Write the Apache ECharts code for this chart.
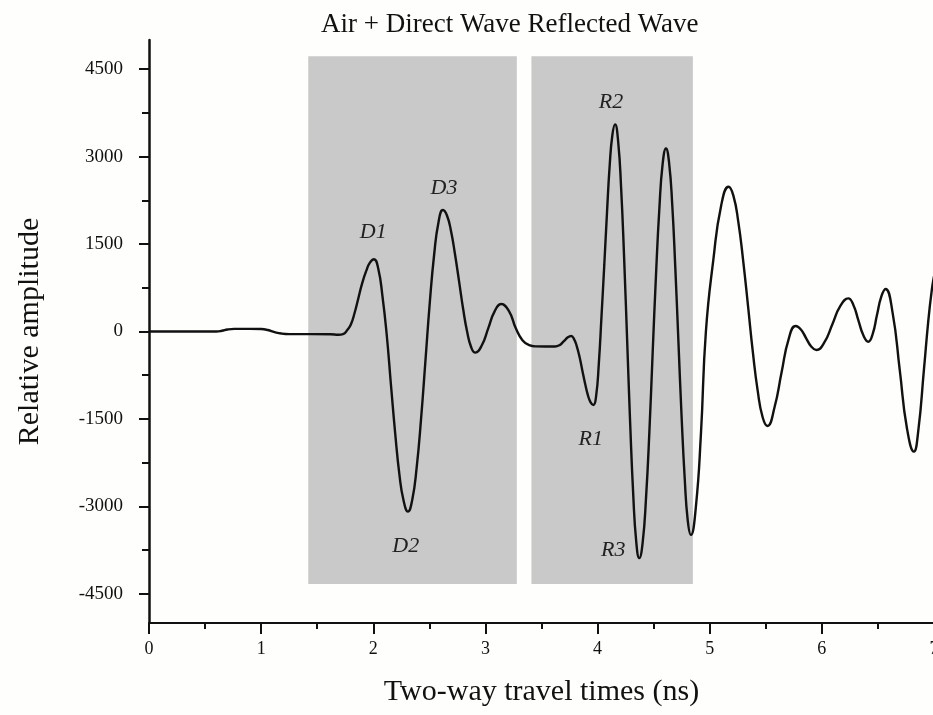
<!DOCTYPE html>
<html>
<head>
<meta charset="utf-8">
<title>Air + Direct Wave / Reflected Wave</title>
<script src="https://cdn.jsdelivr.net/npm/echarts@6/dist/echarts.min.js"></script>
<style>
  html, body { margin: 0; padding: 0; background: #fefefc; }
  #chart { width: 933px; height: 715px; }
</style>
</head>
<body>
<div id="chart"></div>
<script>
// Two-way travel time (ns) of each sample of the trace
const timeNs = [
  0, 0.3, 0.6, 0.65, 0.7, 0.76, 0.9, 1.0, 1.06, 1.12, 1.18, 1.25, 1.45, 1.62, 1.69, 1.73,
  1.77, 1.8, 1.835, 1.868, 1.9, 1.937, 1.97, 2.006, 2.044, 2.082, 2.12, 2.158, 2.196, 2.233,
  2.27, 2.309, 2.348, 2.387, 2.426, 2.465, 2.504, 2.543, 2.582, 2.621, 2.657, 2.693, 2.729,
  2.765, 2.801, 2.837, 2.873, 2.909, 2.967, 3.025, 3.083, 3.141, 3.21, 3.27, 3.33, 3.39,
  3.45, 3.62, 3.66, 3.7, 3.735, 3.764, 3.79, 3.814, 3.84, 3.864, 3.889, 3.913, 3.938, 3.963,
  3.987, 4.011, 4.035, 4.06, 4.084, 4.108, 4.132, 4.156, 4.183, 4.21, 4.237, 4.264, 4.291,
  4.318, 4.345, 4.372, 4.402, 4.432, 4.462, 4.491, 4.521, 4.551, 4.58, 4.61, 4.638, 4.666,
  4.693, 4.721, 4.749, 4.777, 4.804, 4.832, 4.876, 4.922, 4.966, 5.033, 5.101, 5.168, 5.211,
  5.255, 5.298, 5.342, 5.385, 5.428, 5.472, 5.515, 5.578, 5.641, 5.704, 5.767, 5.813, 5.859,
  5.905, 5.951, 6.022, 6.094, 6.165, 6.236, 6.28, 6.325, 6.37, 6.414, 6.453, 6.491, 6.53,
  6.568, 6.631, 6.695, 6.758, 6.821, 6.86, 6.91, 6.95, 6.981, 7.0
];
// Relative amplitude of each sample
const amplitude = [
  0, 0, 0, 12, 35, 45, 45, 42, 25, -10, -35, -45, -45, -48, -55, -45,
  30, 120, 330, 580, 820, 1040, 1180, 1238, 1080, 604, -60, -926, -1760, -2455,
  -2900, -3089, -2880, -2331, -1500, -503, 500, 1325, 1880, 2083, 1990, 1725, 1320,
  860, 390, -5, -270, -363, -241, 54, 349, 471, 350, 60, -150, -235,
  -255, -258, -235, -165, -100, -77, -130, -250, -440, -668, -895, -1087, -1215, -1260,
  -1110, -555, 260, 1146, 2040, 2847, 3370, 3552, 3270, 2462, 1250, -168, -1590,
  -2798, -3610, -3888, -3620, -2858, -1720, -374, 970, 2110, 2870, 3140, 2890, 2169,
  1100, -175, -1450, -2518, -3240, -3489, -3020, -1745, 0, 1240, 2150, 2482, 2330,
  1881, 1220, 431, -360, -1019, -1470, -1620, -1300, -700, -130, 94, 34, -112,
  -257, -317, -187, 126, 439, 569, 460, 197, -66, -175, -43, 277, 597,
  729, 320, -666, -1651, -2060, -1700, -660, 200, 720, 950
];

// Labelled arrivals: name, time, amplitude where the label sits
const arrivalNames = ['D1', 'D2', 'D3', 'R1', 'R2', 'R3'];
const arrivalTimes = [2.0, 2.29, 2.63, 3.94, 4.12, 4.14];
const arrivalAmps  = [1700, -3680, 2460, -1840, 3930, -3760];

// Shaded windows (time start, time end) and their amplitude span
const windowStarts = [1.42, 3.41];
const windowEnds   = [3.28, 4.85];
const windowAmpSpan = [-4330, 4720];

// Axis ticks
const xMajorTicks = [0, 1, 2, 3, 4, 5, 6, 7];
const xMinorTicks = [0.5, 1.5, 2.5, 3.5, 4.5, 5.5, 6.5];
const yMajorTicks = [-4500, -3000, -1500, 0, 1500, 3000, 4500];
const yMinorTicks = [-3750, -2250, -750, 750, 2250, 3750];

const serif = '"Liberation Serif", "Times New Roman", serif';
const ink = '#111';

const trace = timeNs.map((t, i) => [t, amplitude[i]]);

const chart = echarts.init(document.getElementById('chart'), null, { renderer: 'canvas' });

const xBase = {
  type: 'value', min: 0, max: 7,
  splitLine: { show: false }
};
const yBase = {
  type: 'value', min: -5000, max: 5000,
  splitLine: { show: false }
};

chart.setOption({
  backgroundColor: '#fefefc',
  animation: false,
  title: {
    text: 'Air + Direct Wave Reflected Wave',
    left: 316, top: 6,
    textStyle: { fontFamily: serif, fontSize: 27, fontWeight: 'normal', color: ink }
  },
  grid: {
    left: 149, top: 40, width: 785, height: 583,
    containLabel: false,
    outerBoundsMode: 'none'
  },
  xAxis: [
    Object.assign({}, xBase, {
      name: 'Two-way travel times (ns)',
      nameLocation: 'middle',
      nameGap: 54,
      nameTextStyle: { fontFamily: serif, fontSize: 30, color: ink },
      axisLine: { show: true, onZero: false, lineStyle: { color: ink, width: 2 } },
      axisTick: { show: true, customValues: xMajorTicks, length: 11, lineStyle: { color: ink, width: 2 } },
      axisLabel: { show: true, customValues: xMajorTicks, margin: 17, fontFamily: serif, fontSize: 18, color: ink }
    }),
    Object.assign({}, xBase, {
      position: 'bottom',
      axisLine: { show: false, onZero: false },
      axisTick: { show: true, customValues: xMinorTicks, length: 6, lineStyle: { color: ink, width: 2 } },
      axisLabel: { show: false }
    })
  ],
  yAxis: [
    Object.assign({}, yBase, {
      position: 'left',
      name: 'Relative amplitude',
      nameLocation: 'middle',
      nameGap: 104,
      nameTextStyle: { fontFamily: serif, fontSize: 30, color: ink },
      axisLine: { show: true, onZero: false, lineStyle: { color: ink, width: 2.5 } },
      axisTick: { show: true, customValues: yMajorTicks, length: 10, lineStyle: { color: ink, width: 2 } },
      axisLabel: {
        show: true, customValues: yMajorTicks, margin: 26,
        fontFamily: serif, fontSize: 19, color: ink,
        formatter: (v) => String(v)
      }
    }),
    Object.assign({}, yBase, {
      position: 'left',
      axisLine: { show: false, onZero: false },
      axisTick: { show: true, customValues: yMinorTicks, length: 7, lineStyle: { color: ink, width: 2 } },
      axisLabel: { show: false }
    })
  ],
  series: [
    {
      type: 'line',
      xAxisIndex: 0, yAxisIndex: 0,
      data: trace,
      smooth: 0.5,
      showSymbol: false,
      clip: false,
      lineStyle: { color: ink, width: 2.4 },
      z: 5,
      markArea: {
        silent: true,
        itemStyle: { color: '#c9c9c9' },
        data: windowStarts.map((s, i) => [
          { coord: [s, windowAmpSpan[1]] },
          { coord: [windowEnds[i], windowAmpSpan[0]] }
        ])
      },
      markPoint: {
        silent: true,
        symbol: 'circle',
        symbolSize: 1,
        itemStyle: { color: 'transparent' },
        label: {
          show: true,
          position: 'inside',
          formatter: '{b}',
          fontFamily: serif,
          fontStyle: 'italic',
          fontSize: 22,
          color: '#222'
        },
        data: arrivalNames.map((n, i) => ({ name: n, coord: [arrivalTimes[i], arrivalAmps[i]] }))
      }
    }
  ]
});
</script>
</body>
</html>
